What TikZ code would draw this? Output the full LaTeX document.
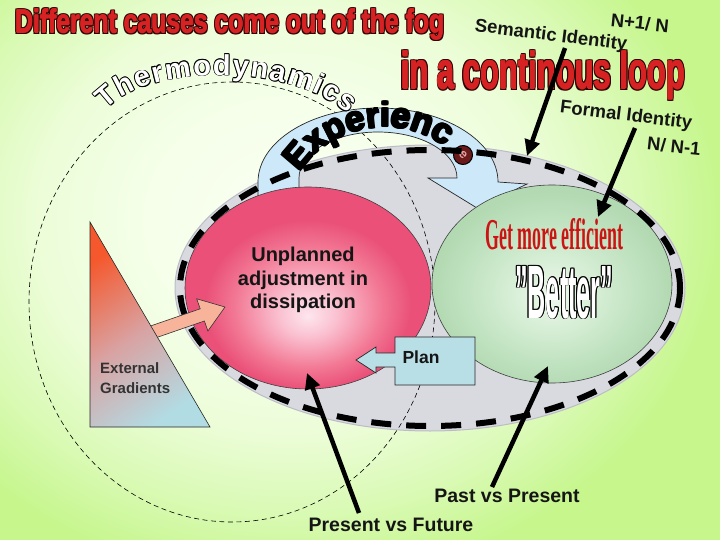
\documentclass[tikz,border=0pt]{standalone}
\usepackage{graphicx}
\usepackage{fontspec}
\setmainfont{Liberation Sans}
\newfontfamily\lserif{Liberation Serif}
\usetikzlibrary{arrows.meta,decorations.text}

\definecolor{bgA}{HTML}{FAFFF2}
\definecolor{bgB}{HTML}{F5FFE9}
\definecolor{bgC}{HTML}{ECFDD8}
\definecolor{bgD}{HTML}{DAFAB6}
\definecolor{bgE}{HTML}{C6F68C}
\definecolor{pinkA}{HTML}{FDE6EE}
\definecolor{pinkB}{HTML}{FAC0D0}
\definecolor{pinkC}{HTML}{F27894}
\definecolor{pinkD}{HTML}{EA5078}
\definecolor{greenA}{HTML}{EEF8EC}
\definecolor{greenB}{HTML}{D6EED5}
\definecolor{greenC}{HTML}{BEE1BE}
\definecolor{greenD}{HTML}{B2D9B2}
\definecolor{grayfill}{HTML}{D9D9E0}
\definecolor{grayedge}{HTML}{BCBCC6}
\definecolor{bluefill}{HTML}{CDE8F8}
\definecolor{planfill}{HTML}{B9DFE6}
\definecolor{salmon}{HTML}{F8B49A}
\definecolor{titlered}{HTML}{D62222}
\definecolor{darkout}{HTML}{2E0505}
\definecolor{gmred}{HTML}{CC1414}
\definecolor{emaroon}{HTML}{6A1A1A}
\definecolor{epink}{HTML}{E6A6A6}
\definecolor{triA}{HTML}{F5582C}
\definecolor{triB}{HTML}{D9A2A2}
\definecolor{triC}{HTML}{B2DCE4}
\definecolor{textdark}{HTML}{151515}

\pgfdeclareradialshading{bgshade}{\pgfpointorigin}{color(0bp)=(bgA); color(8bp)=(bgB); color(14bp)=(bgC); color(19bp)=(bgD); color(24bp)=(bgE); color(50bp)=(bgE)}
\pgfdeclareradialshading{pinkshade}{\pgfpoint{0bp}{-7bp}}{color(0bp)=(pinkA); color(6bp)=(pinkB); color(15bp)=(pinkC); color(21bp)=(pinkD); color(50bp)=(pinkD)}
\pgfdeclareradialshading{greenshade}{\pgfpoint{0bp}{-3bp}}{color(0bp)=(greenA); color(9bp)=(greenB); color(19bp)=(greenC); color(25bp)=(greenD); color(50bp)=(greenD)}

% one shifted, coloured copy of a text that takes no width
\newcommand\cpy[4]{\rlap{\color{#3}\kern#1\relax\raisebox{#2}{#4}}}
% outlined text: #1 x offset, #2 y offset, #3 outline colour, #4 fill colour, #5 text
\newcommand\olt[5]{\leavevmode\cpy{#1}{0pt}{#3}{#5}\cpy{-#1}{0pt}{#3}{#5}\cpy{0pt}{#2}{#3}{#5}\cpy{0pt}{-#2}{#3}{#5}\cpy{#1}{#2}{#3}{#5}\cpy{-#1}{#2}{#3}{#5}\cpy{#1}{-#2}{#3}{#5}\cpy{-#1}{-#2}{#3}{#5}{\color{#4}#5}}
% heavy outlined text: #1,#2 outline offsets, #3,#4 embolden offsets, #5 outline colour, #6 fill colour, #7 text
\newcommand\hvt[7]{\leavevmode\cpy{#1}{0pt}{#5}{#7}\cpy{-#1}{0pt}{#5}{#7}\cpy{0pt}{#2}{#5}{#7}\cpy{0pt}{-#2}{#5}{#7}\cpy{#1}{#2}{#5}{#7}\cpy{-#1}{#2}{#5}{#7}\cpy{#1}{-#2}{#5}{#7}\cpy{-#1}{-#2}{#5}{#7}\cpy{#3}{0pt}{#6}{#7}\cpy{-#3}{0pt}{#6}{#7}\cpy{0pt}{#4}{#6}{#7}\cpy{0pt}{-#4}{#6}{#7}{\color{#6}#7}}
\newcommand\thermochar[1]{\olt{0.65pt}{0.65pt}{black}{white}{#1}}
\newcommand\expchar[1]{\olt{0.9pt}{0.9pt}{black}{black}{#1}}

\tikzset{
  thermoline/.style={draw=black, line width=0.6pt, dash pattern=on 5pt off 3.5pt},
  bigdash/.style={draw=black, line width=6pt, dash pattern=on 20pt off 15pt},
  bluearrow/.style={fill=bluefill, draw=black!85, line width=0.7pt},
  planshape/.style={fill=planfill, draw=black!85, line width=0.7pt},
  salmonarrow/.style={fill=salmon, draw=black!80, line width=0.6pt},
  blackarrow/.style={draw=black, line width=4.5pt, -{Triangle[length=16pt,width=15pt]}},
  boldlbl/.style={inner sep=0pt, text=textdark, font=\bfseries\fontsize{19.5}{20}\selectfont},
  tilted/.style={inner sep=0pt, text=textdark, font=\bfseries\fontsize{18.5}{19}\selectfont},
  ecircle/.style={circle, fill=emaroon, draw=black, line width=1pt, minimum size=19pt, inner sep=0pt, text=epink, font=\bfseries\fontsize{13}{13}\selectfont},
}

\begin{document}
\begin{tikzpicture}[x=1pt,y=-1pt]
\useasboundingbox (0,0) rectangle (720,540);
% background
\begin{scope}
  \clip (0,0) rectangle (720,540);
  \shade[shading=bgshade] (-160,-160) rectangle (740,600);
\end{scope}

% grey loop area
\path[fill=grayfill, draw=grayedge, line width=1pt] (430,288) ellipse [x radius=255, y radius=143];

% thermodynamics dashed ellipse
\draw[thermoline] (232,302) ellipse [x radius=203, y radius=220];

% experience curved arrow
\draw[bluearrow] (258,200) -- (258,182) arc[start angle=180, end angle=360, x radius=120, y radius=74]
  -- (527,184) -- (477,208) -- (428,178) -- (457,178)
  arc[start angle=0, end angle=-180, x radius=79, y radius=46] -- (299,200) -- cycle;

% Thermodynamics arc text
\path[decorate, decoration={text effects along path, text={Thermodynamics},
   text effects/.cd, text along path, fit text to path, character command=\thermochar,
   characters={font=\bfseries\fontsize{29}{29}\selectfont}}]
   (106,110) .. controls (148,63) and (292,63) .. (348,114);

% pink and green
\shadedraw[shading=pinkshade, draw=black!75, line width=0.6pt] (308,288) ellipse [x radius=123, y radius=101];
\shadedraw[shading=greenshade, draw=black!75, line width=0.6pt] (552,284) ellipse [x radius=120, y radius=99];

% Experience arc text
\path[decorate, decoration={text effects along path, text={Experienc},
   text effects/.cd, text along path, fit text to path, character command=\expchar,
   characters={font=\bfseries\fontsize{35}{35}\selectfont}}]
   (299.6,172.4) arc[start angle=214, end angle=306, radius=103];
\node[ecircle, rotate=-48] (expe) at (463,155) {e};

% plan callout
\draw[planshape] (395,337) -- (475,337) -- (475,385) -- (395,385) -- (395,367) -- (376,367)
  -- (376,373) -- (356,360) -- (376,347) -- (376,353) -- (395,353) -- cycle;
\node[inner sep=0pt, anchor=base, text=textdark, font=\bfseries\fontsize{17.5}{18}\selectfont] (plan) at (421,363) {Plan};

% thick dashed loop
\draw[bigdash] (430,288) ellipse [x radius=250, y radius=138];

% salmon arrow and external gradients triangle
\draw[salmonarrow] (152.1,339.1) -- (147.9,326.9) -- (200.2,308.8) -- (196.7,298.8) -- (225,307)
  -- (207.9,331) -- (204.4,321) -- cycle;
\shadedraw[top color=triA, bottom color=triC, middle color=triB, shading angle=35, draw=black!85, line width=0.6pt]
  (90,222) -- (90,427) -- (210,427) -- cycle;
\node[inner sep=0pt, anchor=north west, align=left, text=black!80, font=\bfseries\fontsize{15}{20}\selectfont] (ext) at (100,362) {External\\Gradients};

% texts in circles
\node[inner sep=0pt, align=center, text=textdark, font=\bfseries\fontsize{20}{23.5}\selectfont] (unpl) at (303,280) {Unplanned\\adjustment in\\dissipation};
\node[inner sep=0pt, anchor=base west] (gme) at (485,250) {\resizebox{138pt}{31pt}{\color{gmred}\lserif\bfseries\fontsize{30}{30}\selectfont Get more efficient}};
\node[inner sep=0pt, anchor=base west] (better) at (515,318) {\resizebox{98pt}{53pt}{\bfseries\fontsize{45}{45}\selectfont\olt{1.6pt}{0.57pt}{black}{white}{"Better"}}};

% titles
\node[inner sep=0pt, anchor=base west] (title) at (15,33) {\resizebox{429pt}{25pt}{\bfseries\fontsize{30}{30}\selectfont\hvt{1.5pt}{1.1pt}{0.45pt}{0.3pt}{darkout}{titlered}{Different causes come out of the fog}}};
\node[inner sep=0pt, anchor=base west] (loop) at (401,89) {\resizebox{284pt}{39pt}{\bfseries\fontsize{40}{40}\selectfont\hvt{1.6pt}{1.0pt}{0.5pt}{0.3pt}{darkout}{titlered}{in a continous loop}}};

% identity labels
\node[tilted, rotate=-6] (nplus) at (640,23) {N+1/ N};
\node[tilted, rotate=-7] (sem) at (551,36) {Semantic Identity};
\node[tilted, rotate=-7] (formal) at (626,116) {Formal Identity};
\node[tilted, rotate=-6] (nminus) at (674,146) {N/ N-1};

% bottom labels
\node[boldlbl, anchor=base] (pvf) at (391,531) {Present vs Future};
\node[boldlbl, anchor=base] (pvp) at (507,502) {Past vs Present};

% black arrows
\coordinate (semT) at (565,48);
\coordinate (semH) at (527,156);
\coordinate (forT) at (635,128);
\coordinate (forH) at (598,217);
\coordinate (pvfT) at (359,513);
\coordinate (pvfH) at (307,373);
\coordinate (pvpT) at (492,487);
\coordinate (pvpH) at (548,366);
\draw[blackarrow] (semT) -- (semH);
\draw[blackarrow] (forT) -- (forH);
\draw[blackarrow] (pvfT) -- (pvfH);
\draw[blackarrow] (pvpT) -- (pvpH);
\end{tikzpicture}
\end{document}
